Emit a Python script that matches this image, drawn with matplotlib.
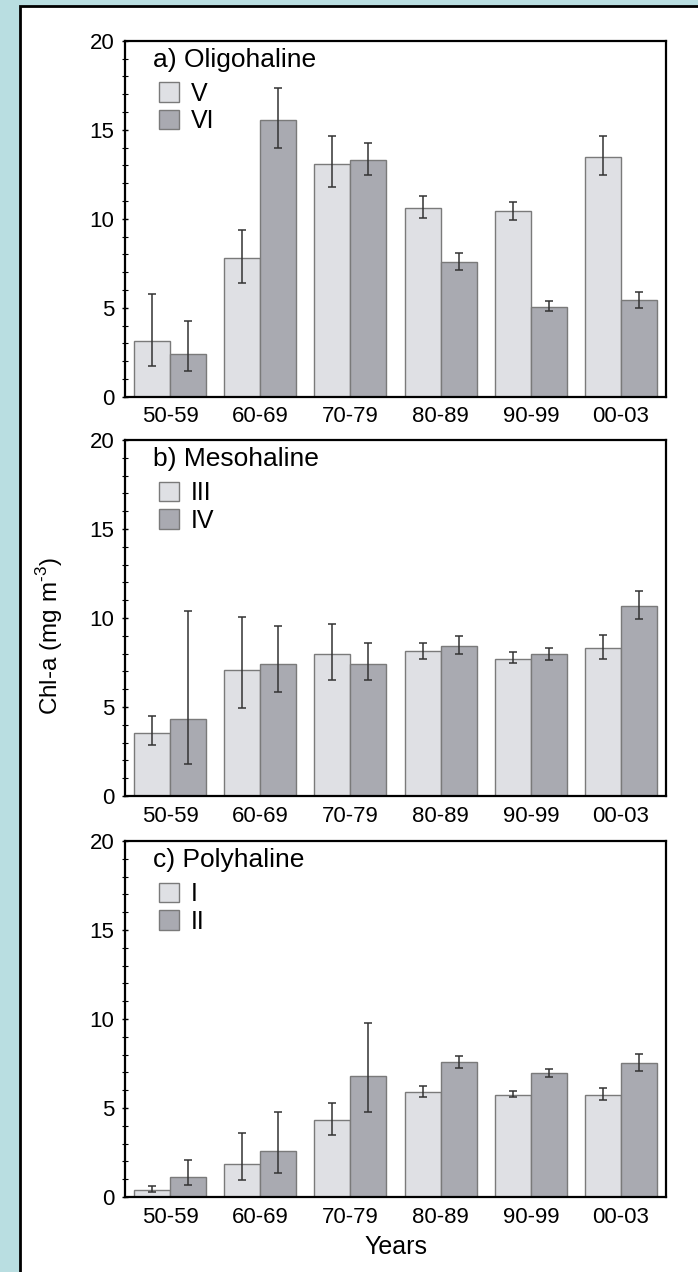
import matplotlib
matplotlib.use("Agg")
import matplotlib.pyplot as plt
import numpy as np
from matplotlib.patches import Rectangle, Patch
from matplotlib.ticker import MultipleLocator

plt.rcParams['font.family'] = ['Liberation Sans', 'DejaVu Sans']
plt.rcParams['mathtext.fontset'] = 'custom'
plt.rcParams['mathtext.rm'] = 'Liberation Sans'

decades = ["50-59", "60-69", "70-79", "80-89", "90-99", "00-03"]

# a) Oligohaline
olig_names = ["V", "VI"]
olig_V = [3.14, 7.79, 13.09, 10.61, 10.44, 13.46]
olig_V_lo = [1.73, 6.38, 11.77, 10.03, 9.95, 12.43]
olig_V_hi = [5.77, 9.37, 14.63, 11.30, 10.93, 14.63]
olig_VI = [2.42, 15.57, 13.28, 7.59, 5.05, 5.43]
olig_VI_lo = [1.45, 13.97, 12.47, 7.14, 4.79, 4.98]
olig_VI_hi = [4.26, 17.37, 14.27, 8.08, 5.35, 5.90]

# b) Mesohaline
meso_names = ["III", "IV"]
meso_III = [3.54, 7.07, 7.95, 8.14, 7.72, 8.32]
meso_III_lo = [2.85, 4.97, 6.54, 7.72, 7.48, 7.72]
meso_III_hi = [4.48, 10.03, 9.69, 8.57, 8.10, 9.03]
meso_IV = [4.31, 7.44, 7.44, 8.45, 7.95, 10.68]
meso_IV_lo = [1.82, 5.85, 6.50, 8.00, 7.63, 9.93]
meso_IV_hi = [10.38, 9.54, 8.57, 8.98, 8.29, 11.53]

# c) Polyhaline
poly_names = ["I", "II"]
poly_I = [0.41, 1.87, 4.34, 5.89, 5.74, 5.74]
poly_I_lo = [0.28, 0.93, 3.51, 5.64, 5.61, 5.46]
poly_I_hi = [0.62, 3.59, 5.29, 6.21, 5.98, 6.13]
poly_II = [1.12, 2.58, 6.82, 7.57, 6.95, 7.51]
poly_II_lo = [0.65, 1.36, 4.77, 7.25, 6.73, 7.07]
poly_II_hi = [2.06, 4.77, 9.76, 7.91, 7.21, 8.04]

panels = [
    ("a) Oligohaline", olig_names, (olig_V, olig_V_lo, olig_V_hi), (olig_VI, olig_VI_lo, olig_VI_hi)),
    ("b) Mesohaline", meso_names, (meso_III, meso_III_lo, meso_III_hi), (meso_IV, meso_IV_lo, meso_IV_hi)),
    ("c) Polyhaline", poly_names, (poly_I, poly_I_lo, poly_I_hi), (poly_II, poly_II_lo, poly_II_hi)),
]

light = "#dfe0e4"
dark = "#a9aab1"
edge = "#7a7a7a"

W, H = 698, 1272
fig = plt.figure(figsize=(W / 100, H / 100), dpi=100)
fig.patch.set_facecolor("#b9dee1")
fig.patches.append(Rectangle((20 / W, -0.01), 1.0, 1 - 6 / H + 0.01, transform=fig.transFigure,
                             facecolor="white", edgecolor="black", linewidth=2, zorder=-1))

left = 125 / W
width = 541 / W
tops = [40.7, 440, 841]
ax_h = 356

x = np.arange(len(decades))
bw = 0.4
for (title, names, s1, s2), top in zip(panels, tops):
    ax = fig.add_axes([left, 1 - (top + ax_h) / H, width, ax_h / H])
    for off, (vals, lo, hi), col in [(-bw / 2, s1, light), (bw / 2, s2, dark)]:
        vals = np.array(vals)
        yerr = [vals - np.array(lo), np.array(hi) - vals]
        ax.bar(x + off, vals, bw, color=col, edgecolor=edge, linewidth=1.0, zorder=2)
        ax.errorbar(x + off, vals, yerr=yerr, fmt="none", ecolor="#333333",
                    elinewidth=1.1, capsize=3, capthick=1.1, zorder=3)
    ax.set_xlim(-0.5, 5.5)
    ax.set_ylim(0, 20)
    ax.set_xticks(x)
    ax.set_xticklabels(decades)
    ax.set_yticks([0, 5, 10, 15, 20])
    ax.yaxis.set_minor_locator(MultipleLocator(1))
    ax.tick_params(axis="x", length=0, pad=7, labelsize=16)
    ax.tick_params(axis="y", which="major", direction="inout", length=5, width=1, pad=5, labelsize=16)
    ax.tick_params(axis="y", which="minor", direction="inout", length=4, width=0.8)
    for sp in ax.spines.values():
        sp.set_linewidth(1.6)
    ax.text(0.052, 0.946, title, transform=ax.transAxes, fontsize=19, va="center", ha="left")
    handles = [Patch(facecolor=light, edgecolor=edge), Patch(facecolor=dark, edgecolor=edge)]
    ax.legend(handles, names, loc="upper left", bbox_to_anchor=(0.062, 0.885), frameon=False,
              fontsize=18, handlelength=0.8, handleheight=0.8, handletextpad=0.5,
              labelspacing=0.15, borderpad=0, borderaxespad=0)
    if title.startswith("c"):
        ax.set_xlabel("Years", fontsize=18, labelpad=5)

fig.text(50 / W, 1 - 636 / H, r"Chl-a (mg m$^{\mathrm{\text{-3}}}$)", rotation=90, fontsize=17.5,
         va="center", ha="center")

fig.savefig("out.png", dpi=100, facecolor=fig.get_facecolor())
